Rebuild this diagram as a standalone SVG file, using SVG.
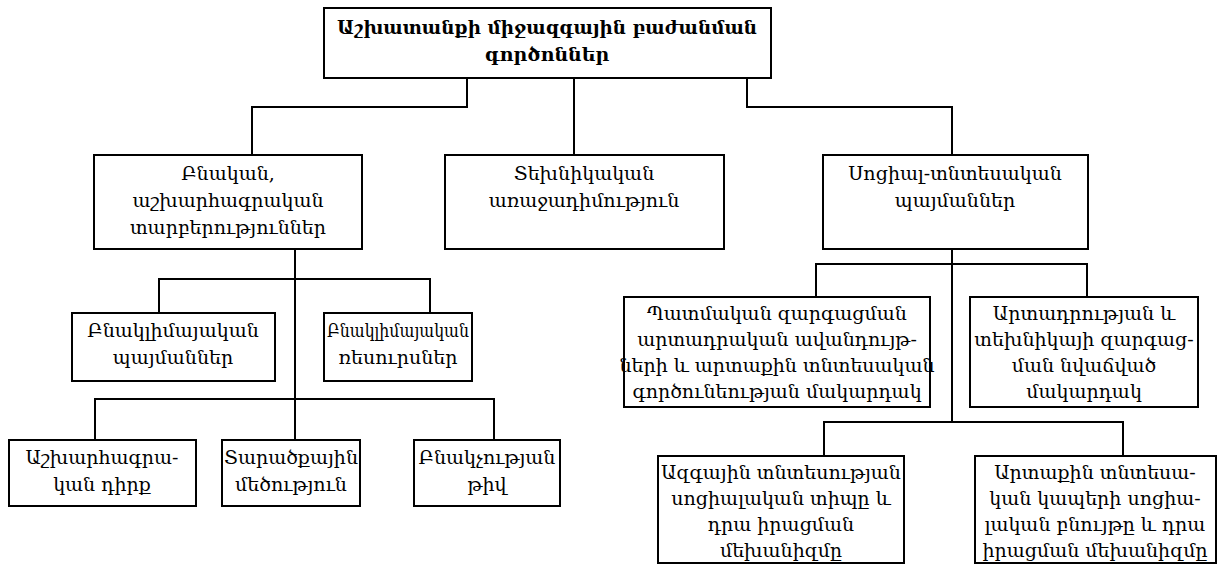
<svg xmlns="http://www.w3.org/2000/svg" width="1219" height="564" viewBox="0 0 1219 564">
<style>
.box{fill:#fff;stroke:#000;stroke-width:2}
.ln{fill:none;stroke:#000;stroke-width:2}
text{font-family:"DejaVu Serif","Noto Serif",serif;font-size:19px;fill:#000;text-anchor:middle}
.t{font-weight:bold}
</style>
<rect width="1219" height="564" fill="#fff"/>
<g id="connectors">
<path class="ln" d="M467 78V107H252V155"/>
<path class="ln" d="M574 78V155"/>
<path class="ln" d="M747 78V107H952V155"/>
<path class="ln" d="M295 249V440"/>
<path class="ln" d="M159 313V279H430V313"/>
<path class="ln" d="M95 440V399H494V440"/>
<path class="ln" d="M952 249V422"/>
<path class="ln" d="M816 297V264H1087V297"/>
<path class="ln" d="M824 456V422H1123V456"/>
</g>
<g id="n-root"><rect class="box" x="324" y="8" width="447" height="70"/>
<text class="t" x="547" y="34" textLength="420" lengthAdjust="spacingAndGlyphs">Աշխատանքի միջազգային բաժանման</text>
<text class="t" x="547" y="61">գործոններ</text></g>
<g id="n-nat"><rect class="box" x="94" y="155" width="268" height="94"/>
<text x="228" y="180">Բնական,</text><text x="228" y="207">աշխարհագրական</text><text x="228" y="234">տարբերություններ</text></g>
<g id="n-tech"><rect class="box" x="445" y="155" width="279" height="94"/>
<text x="584" y="180">Տեխնիկական</text><text x="584" y="207">առաջադիմություն</text></g>
<g id="n-soc"><rect class="box" x="823" y="155" width="265" height="94"/>
<text x="955" y="180">Սոցիալ-տնտեսական</text><text x="955" y="207">պայմաններ</text></g>
<g id="n-clim1"><rect class="box" x="72" y="313" width="203" height="68"/>
<text x="173" y="337">Բնակլիմայական</text><text x="173" y="364">պայմաններ</text></g>
<g id="n-clim2"><rect class="box" x="324" y="313" width="148" height="68"/>
<text x="398" y="337" textLength="142" lengthAdjust="spacingAndGlyphs">Բնակլիմայական</text><text x="398" y="364">ռեսուրսներ</text></g>
<g id="n-geo"><rect class="box" x="9" y="440" width="187" height="66"/>
<text x="102" y="464">Աշխարհագրա-</text><text x="102" y="491">կան դիրք</text></g>
<g id="n-area"><rect class="box" x="222" y="440" width="138" height="66"/>
<text x="291" y="464">Տարածքային</text><text x="291" y="491">մեծություն</text></g>
<g id="n-pop"><rect class="box" x="414" y="440" width="146" height="66"/>
<text x="487" y="464">Բնակչության</text><text x="487" y="491">թիվ</text></g>
<g id="n-hist"><rect class="box" x="624" y="297" width="306" height="110"/>
<text x="777" y="320">Պատմական զարգացման</text><text x="777" y="346">արտադրական ավանդույթ-</text><text x="777" y="372">ների և արտաքին տնտեսական</text><text x="777" y="398">գործունեության մակարդակ</text></g>
<g id="n-prod"><rect class="box" x="970" y="297" width="228" height="110"/>
<text x="1084" y="320">Արտադրության և</text><text x="1084" y="346">տեխնիկայի զարգաց-</text><text x="1084" y="372">ման նվաճված</text><text x="1084" y="398">մակարդակ</text></g>
<g id="n-nat-econ"><rect class="box" x="658" y="456" width="246" height="107"/>
<text x="781" y="479">Ազգային տնտեսության</text><text x="781" y="505">սոցիալական տիպը և</text><text x="781" y="531">դրա իրացման</text><text x="781" y="557">մեխանիզմը</text></g>
<g id="n-ext"><rect class="box" x="975" y="456" width="241" height="107"/>
<text x="1095" y="479">Արտաքին տնտեսա-</text><text x="1095" y="505">կան կապերի սոցիա-</text><text x="1095" y="531">լական բնույթը և դրա</text><text x="1095" y="557">իրացման մեխանիզմը</text></g>
</svg>
